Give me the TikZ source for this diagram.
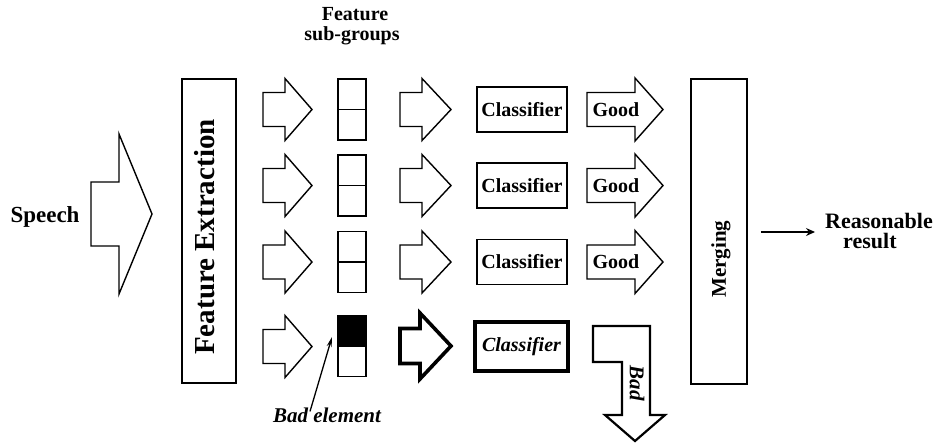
\documentclass[tikz,border=0pt]{standalone}
\usepackage{fontspec}
\setmainfont{Liberation Serif}
\usetikzlibrary{arrows.meta}

% block arrow: [options]{tail x}{head base x}{tip x}{centre y}{shaft half}{head half}
\newcommand\blockarrow[7][]{%
  \draw[blockline,#1] (#2,#5-#6) -- (#3,#5-#6) -- (#3,#5-#7) -- (#4,#5)
    -- (#3,#5+#7) -- (#3,#5+#6) -- (#2,#5+#6) -- cycle;}

\begin{document}
\begin{tikzpicture}[x=1pt,y=-1pt,
  blockline/.style={line width=1.4pt, line join=miter},
  boxline/.style={draw, line width=1.6pt, inner sep=0pt},
  thickline/.style={line width=3.6pt},
  lbl/.style={font=\bfseries\fontsize{#1}{#1}\selectfont, inner sep=0pt},
  ilbl/.style={font=\bfseries\itshape\fontsize{#1}{#1}\selectfont, inner sep=0pt},
  cellbox/.style={boxline, minimum width=28, minimum height=61},
  clbox/.style={boxline, minimum width=90, minimum height=45, lbl=20},
]
\useasboundingbox (0,0) rectangle (947,445);
\fill[white] (0,0) rectangle (947,445);

% input
\node[lbl=23] (speech) at (45,217) {Speech};
\blockarrow{91}{119}{152}{214}{32}{80}

% feature extraction block
\node[boxline, minimum width=54, minimum height=304] (fe) at (209,231) {};
\node[lbl=29, rotate=90] (felabel) at (205,237) {Feature Extraction};

% column heading
\node[lbl=20] (hdr1) at (355,14) {Feature};
\node[lbl=20] (hdr2) at (352,36) {sub-groups};

% three good rows
\foreach \y/\i in {109.5/1,185.5/2,262/3}{
  \blockarrow{263}{285}{312}{\y}{17}{31}
  \node[cellbox] (sg\i) at (352,\y) {};
  \draw[line width=1.6pt] (sg\i.west) -- (sg\i.east);
  \blockarrow{400}{422}{451}{\y}{17}{31}
  \node[clbox] (cl\i) at (522,\y) {Classifier};
  \blockarrow{587}{635}{663}{\y}{17}{31.5}
  \node[lbl=20] (good\i) at (616,\y) {Good};
}

% bad row
\blockarrow{263}{285}{312}{346.5}{17}{31}
\node[cellbox] (sg4) at (352,346) {};
\fill (sg4.north west) rectangle (sg4.east);
\draw[line width=1.6pt] (sg4.west) -- (sg4.east);
\blockarrow[thickline]{400}{420}{451}{346}{17.5}{33}
\node[boxline, thickline, minimum width=93, minimum height=49, ilbl=20] (cl4) at (521.5,346.5) {Classifier};
\draw[line width=2.2pt, line join=miter]
  (593,326) -- (650,326) -- (650,415) -- (665,415) -- (635,441)
  -- (605,415) -- (622,415) -- (622,362) -- (593,362) -- cycle;
\node[ilbl=21, rotate=-90] (badlabel) at (637,383) {Bad};

% pointer to the bad element
\node[ilbl=21] (bad) at (327,415) {Bad element};
\coordinate (badtip) at (332,337);
\draw[line width=1.3pt, -{Stealth[length=10pt,width=5pt]}] ([xshift=-17pt,yshift=-4pt]bad.north) -- (badtip);

% merging block
\node[boxline, minimum width=56, minimum height=305] (merge) at (719,231.5) {};
\node[lbl=21, rotate=90] (mergelabel) at (721,259) {Merging};

% output
\node[lbl=22, anchor=west] (result) at (825,221) {Reasonable};
\node[lbl=22, anchor=west] (result2) at (843,241) {result};
\coordinate (outy) at (0,232);
\draw[line width=1.2pt, -{Stealth[length=9pt,width=8pt]}, shorten <=13pt, shorten >=10pt]
  (merge.east |- outy) -- (result.west |- outy);
\end{tikzpicture}
\end{document}
